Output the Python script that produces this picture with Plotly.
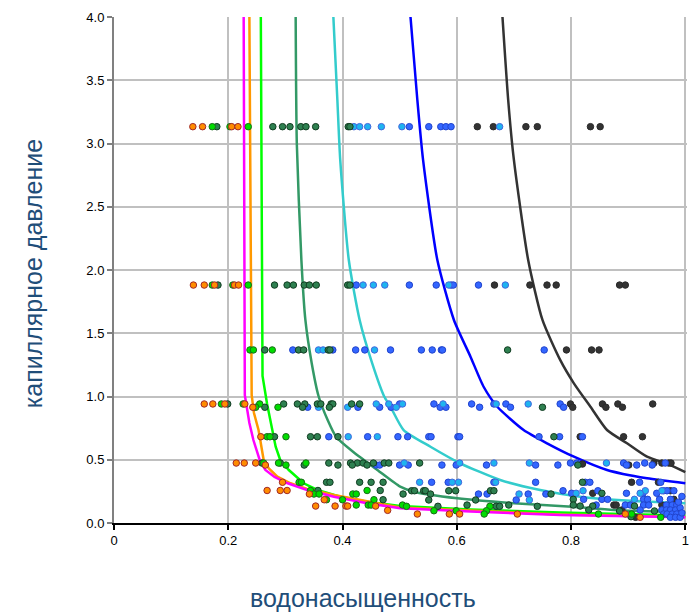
import plotly.graph_objects as go

# ---------------- curves (water saturation, capillary pressure) ----------------
magenta_sw = [0.227, 0.229, 0.237, 0.244, 0.255, 0.265, 0.281, 0.304, 0.338, 0.385, 0.443, 0.501, 0.624, 0.781, 1.0]
magenta_pc = [4.0, 1.01, 0.79, 0.656, 0.498, 0.419, 0.364, 0.314, 0.261, 0.208, 0.156, 0.116, 0.091, 0.063, 0.045]

orange_line_sw = [0.237, 0.241, 0.245, 0.253, 0.262, 0.271, 0.286, 0.309, 0.338, 0.385, 0.501, 0.781, 1.0]
orange_line_pc = [4.0, 1.01, 0.87, 0.735, 0.498, 0.432, 0.366, 0.314, 0.269, 0.221, 0.123, 0.067, 0.048]

lime_line_sw = [0.257, 0.260, 0.268, 0.277, 0.283, 0.291, 0.306, 0.332, 0.356, 0.396, 0.443, 0.501, 0.624, 0.781, 1.0]
lime_line_pc = [4.0, 1.162, 0.941, 0.735, 0.603, 0.498, 0.419, 0.314, 0.261, 0.208, 0.168, 0.134, 0.107, 0.083, 0.059]

seagreen_sw = [0.318, 0.320, 0.328, 0.335, 0.346, 0.358, 0.374, 0.389, 0.419, 0.461, 0.501, 0.525, 0.601, 0.700, 0.802, 0.875, 1.0]
seagreen_pc = [4.0, 3.0, 2.08, 1.605, 1.265, 1.004, 0.814, 0.680, 0.561, 0.419, 0.287, 0.247, 0.195, 0.156, 0.129, 0.103, 0.085]

turq_sw = [0.384, 0.391, 0.396, 0.411, 0.430, 0.452, 0.473, 0.484, 0.507, 0.554, 0.606, 0.676, 0.746, 0.816, 0.904, 1.0]
turq_pc = [4.0, 3.344, 2.87, 2.079, 1.605, 1.262, 1.0, 0.919, 0.735, 0.603, 0.472, 0.340, 0.261, 0.208, 0.176, 0.156]

blue_line_sw = [0.519, 0.531, 0.541, 0.566, 0.595, 0.624, 0.647, 0.671, 0.717, 0.758, 0.805, 0.863, 0.933, 1.0]
blue_line_pc = [4.0, 3.344, 2.870, 2.079, 1.605, 1.315, 1.077, 0.919, 0.735, 0.630, 0.524, 0.419, 0.353, 0.314]

gray_line_sw = [0.680, 0.690, 0.700, 0.725, 0.750, 0.781, 0.805, 0.834, 0.863, 0.898, 0.933, 0.974, 1.0]
gray_line_pc = [4.0, 3.344, 2.870, 2.079, 1.605, 1.289, 1.104, 0.919, 0.735, 0.630, 0.524, 0.458, 0.403]

# ---------------- measured points ----------------
orange_pts = [(0.138,3.133),(0.155,3.133),(0.206,3.133),(0.217,3.133),
    (0.139,1.881),(0.158,1.881),(0.176,1.881),(0.211,1.881),(0.218,1.881),
    (0.158,0.941),(0.173,0.941),(0.194,0.941),(0.229,0.941),(0.243,0.915),
    (0.257,0.682),
    (0.214,0.474),(0.228,0.474),(0.248,0.474),(0.265,0.458),
    (0.268,0.257),(0.291,0.257),(0.303,0.257),(0.295,0.322),(0.342,0.229),(0.368,0.184),
    (0.353,0.134),(0.387,0.134),(0.406,0.134),(0.409,0.134),(0.458,0.134),(0.479,0.100),
    (0.531,0.071),(0.587,0.071),(0.605,0.071),(0.706,0.071),(0.895,0.071),(0.921,0.045)]
orange_sw = [p[0] for p in orange_pts]
orange_pc = [p[1] for p in orange_pts]

lime_pts = [(0.172,3.133),(0.203,3.133),(0.235,3.133),
    (0.172,1.881),(0.208,1.881),(0.235,1.881),
    (0.238,1.368),(0.244,1.368),(0.277,1.368),
    (0.188,0.941),(0.226,0.941),(0.255,0.941),(0.248,0.915),(0.287,0.915),
    (0.268,0.682),(0.273,0.682),(0.301,0.682),
    (0.262,0.474),(0.288,0.474),(0.336,0.474),(0.301,0.458),
    (0.324,0.322),(0.328,0.322),(0.344,0.257),(0.350,0.229),(0.359,0.229),(0.372,0.184),
    (0.400,0.184),(0.418,0.229),(0.424,0.229),(0.424,0.142),(0.443,0.257),(0.455,0.184),
    (0.445,0.142),(0.450,0.142),(0.505,0.142),(0.512,0.132),(0.560,0.097),(0.599,0.097),
    (0.658,0.132),(0.652,0.097),(0.648,0.071),(0.848,0.071),(0.906,0.071),(0.957,0.045)]
lime_sw = [p[0] for p in lime_pts]
lime_pc = [p[1] for p in lime_pts]

dkgreen_pts = [(0.180,3.133),(0.278,3.133),(0.295,3.133),(0.308,3.133),(0.327,3.133),(0.336,3.133),
    (0.353,3.133),(0.410,3.133),(0.413,3.133),
    (0.182,1.881),(0.281,1.881),(0.303,1.881),(0.314,1.881),(0.333,1.881),(0.342,1.881),
    (0.354,1.881),(0.409,1.881),(0.413,1.881),
    (0.264,1.368),(0.323,1.368),(0.332,1.368),(0.375,1.368),(0.378,1.368),(0.689,1.368),
    (0.199,0.941),(0.297,0.941),(0.321,0.941),(0.334,0.941),(0.356,0.941),(0.362,0.941),
    (0.380,0.941),(0.383,0.941),(0.416,0.941),(0.430,0.941),
    (0.264,0.915),(0.330,0.915),(0.377,0.915),(0.750,0.915),
    (0.281,0.682),(0.344,0.682),(0.356,0.682),(0.392,0.682),(0.770,0.682),
    (0.259,0.474),(0.291,0.474),(0.376,0.474),(0.414,0.474),(0.426,0.474),(0.436,0.474),
    (0.454,0.474),(0.473,0.474),(0.481,0.474),(0.535,0.474),
    (0.333,0.458),(0.392,0.458),(0.417,0.458),(0.443,0.458),(0.812,0.458),
    (0.372,0.322),(0.378,0.322),(0.357,0.257),(0.430,0.322),(0.450,0.322),(0.471,0.322),
    (0.466,0.257),(0.471,0.184),(0.506,0.229),(0.521,0.255),(0.526,0.255),(0.542,0.255),
    (0.545,0.255),(0.554,0.229),(0.551,0.182),(0.586,0.255),(0.598,0.255),(0.659,0.255),
    (0.665,0.255),(0.633,0.182),(0.765,0.229),(0.567,0.132),(0.618,0.142),(0.669,0.132),
    (0.675,0.132),(0.691,0.142),(0.741,0.132),(0.820,0.322),(0.854,0.235),(0.804,0.187),
    (0.804,0.142),(0.816,0.134),(0.838,0.134),(0.831,0.103),(0.885,0.095),(0.911,0.134),
    (0.946,0.095),(0.905,0.050)]
dkgreen_sw = [p[0] for p in dkgreen_pts]
dkgreen_pc = [p[1] for p in dkgreen_pts]

ltblue_pts = [(0.420,3.133),(0.430,3.133),(0.444,3.133),(0.468,3.133),(0.504,3.133),(0.675,3.133),
    (0.436,1.881),(0.454,1.881),(0.474,1.881),(0.586,1.881),(0.685,1.881),
    (0.358,1.368),(0.366,1.368),(0.456,1.368),
    (0.459,0.941),(0.481,0.941),(0.505,0.941),(0.576,0.941),(0.669,0.941),(0.725,0.941),
    (0.358,0.915),(0.409,0.915),(0.494,0.915),
    (0.410,0.682),(0.461,0.682),
    (0.508,0.474),(0.605,0.474),(0.665,0.474),(0.727,0.474),(0.862,0.474),
    (0.535,0.322),(0.592,0.322),(0.603,0.322),(0.668,0.322),(0.709,0.229),(0.727,0.182),
    (0.821,0.255),(0.809,0.235),(0.930,0.255),(0.921,0.235),(0.959,0.255),(0.911,0.187)]
ltblue_sw = [p[0] for p in ltblue_pts]
ltblue_pc = [p[1] for p in ltblue_pts]

blue_pts = [(0.517,3.133),(0.551,3.133),(0.572,3.133),(0.581,3.133),(0.590,3.133),
    (0.424,1.881),(0.517,1.881),(0.564,1.881),(0.590,1.881),(0.594,1.881),(0.638,1.881),
    (0.313,1.368),(0.383,1.368),(0.423,1.368),(0.439,1.368),(0.484,1.368),(0.538,1.368),
    (0.557,1.368),(0.573,1.368),(0.575,1.368),(0.753,1.368),
    (0.500,0.941),(0.560,0.941),(0.626,0.941),(0.665,0.941),(0.686,0.941),(0.781,0.941),
    (0.339,0.915),(0.427,0.915),(0.465,0.915),(0.485,0.915),(0.571,0.915),(0.581,0.915),
    (0.640,0.915),(0.694,0.915),(0.787,0.915),
    (0.376,0.682),(0.444,0.682),(0.497,0.682),(0.514,0.682),(0.551,0.682),(0.555,0.682),
    (0.602,0.682),(0.605,0.682),(0.744,0.682),(0.780,0.682),(0.820,0.682),
    (0.799,0.474),(0.810,0.474),(0.892,0.474),(0.929,0.474),(0.965,0.474),
    (0.459,0.458),(0.465,0.458),(0.500,0.458),(0.515,0.458),(0.574,0.458),(0.599,0.458),
    (0.652,0.458),(0.738,0.458),(0.777,0.458),(0.897,0.458),(0.915,0.458),(0.942,0.458),
    (0.556,0.322),(0.585,0.322),(0.665,0.322),(0.738,0.322),(0.825,0.322),(0.833,0.322),
    (0.920,0.322),(0.957,0.322),
    (0.638,0.229),(0.653,0.229),(0.725,0.229),(0.756,0.229),(0.704,0.182),
    (0.786,0.255),(0.801,0.235),(0.847,0.255),(0.897,0.235),(0.926,0.235),(0.950,0.235),
    (0.962,0.255),(0.968,0.255),(0.980,0.255),
    (0.822,0.187),(0.854,0.187),(0.864,0.187),(0.927,0.187),(0.934,0.187),(0.955,0.187),(0.974,0.187),
    (0.844,0.142),(0.895,0.142),(0.904,0.142),(0.927,0.142),(0.936,0.142),(0.967,0.142),
    (0.977,0.142),(0.985,0.142),
    (0.921,0.103),(0.959,0.103),(0.967,0.103),(0.974,0.103),(0.983,0.103),
    (0.962,0.071),(0.968,0.071),(0.977,0.071),(0.985,0.071),
    (0.974,0.045),(0.983,0.045),(0.991,0.045),(0.991,0.120),(0.994,0.080),(0.988,0.165),(0.994,0.210)]
blue_sw = [p[0] for p in blue_pts]
blue_pc = [p[1] for p in blue_pts]

dkgray_pts = [(0.636,3.133),(0.664,3.133),(0.721,3.133),(0.741,3.133),(0.834,3.133),(0.851,3.133),
    (0.666,1.881),(0.728,1.881),(0.758,1.881),(0.774,1.881),(0.885,1.881),(0.895,1.881),
    (0.792,1.368),(0.836,1.368),(0.849,1.368),
    (0.799,0.941),(0.855,0.941),(0.882,0.941),(0.943,0.941),(0.803,0.915),(0.861,0.915),(0.890,0.915),
    (0.816,0.682),(0.892,0.682),(0.925,0.682),
    (0.820,0.466),(0.901,0.458),(0.945,0.474),(0.959,0.474),(0.971,0.474),(0.975,0.474),
    (0.906,0.322),(0.953,0.322),(0.838,0.235),(0.974,0.255),(0.980,0.187),(0.875,0.142),
    (0.879,0.142),(0.959,0.142),(0.889,0.103),(0.913,0.045)]
dkgray_sw = [p[0] for p in dkgray_pts]
dkgray_pc = [p[1] for p in dkgray_pts]

x_ticks = [0, 0.2, 0.4, 0.6, 0.8, 1.0]
x_ticklabels = ["0", "0.2", "0.4", "0.6", "0.8", "1"]
y_ticks = [0, 0.5, 1.0, 1.5, 2.0, 2.5, 3.0, 3.5, 4.0]
y_ticklabels = ["0.0", "0.5", "1.0", "1.5", "2.0", "2.5", "3.0", "3.5", "4.0"]

x_title = "водонасыщенность"
y_title = "капиллярное давление"

fig = go.Figure()

lines = [
    (gray_line_sw, gray_line_pc, "#333333", "spline"),
    (blue_line_sw, blue_line_pc, "#0000FF", "spline"),
    (turq_sw, turq_pc, "#33CCCC", "spline"),
    (seagreen_sw, seagreen_pc, "#339966", "spline"),
    (lime_line_sw, lime_line_pc, "#00FF00", "linear"),
    (orange_line_sw, orange_line_pc, "#FF9900", "linear"),
    (magenta_sw, magenta_pc, "#FF00FF", "linear"),
]
for xs, ys, c, shp in lines:
    fig.add_trace(go.Scatter(x=xs, y=ys, mode="lines",
                             line=dict(color=c, width=2.5, shape=shp, smoothing=0.6),
                             hoverinfo="skip", showlegend=False))

groups = [
    (dkgray_sw, dkgray_pc, "#333333", "#2a2a2a"),
    (blue_sw, blue_pc, "#3366FF", "#2244CC"),
    (ltblue_sw, ltblue_pc, "#1EB4F0", "#4466DD"),
    (dkgreen_sw, dkgreen_pc, "#2E8050", "#123D22"),
    (lime_sw, lime_pc, "#00DD00", "#1A6B1A"),
    (orange_sw, orange_pc, "#FF8C00", "#A0282A"),
]
for xs, ys, fc, lc in groups:
    fig.add_trace(go.Scatter(x=xs, y=ys, mode="markers",
                             marker=dict(size=6.5, color=fc, line=dict(color=lc, width=1)),
                             showlegend=False))

fig.update_layout(
    width=690, height=612,
    margin=dict(l=114, r=3, t=17, b=89),
    paper_bgcolor="white", plot_bgcolor="white",
    font=dict(family="Liberation Sans, Arial, sans-serif", size=13, color="#000000"),
    showlegend=False,
    xaxis=dict(range=[0, 1.003], tickvals=x_ticks, ticktext=x_ticklabels,
               showgrid=True, gridcolor="#C0C0C0", gridwidth=1.5,
               zeroline=False, showline=True, linecolor="#000000", linewidth=1.5,
               ticks="outside", ticklen=5, tickcolor="#000000", tickwidth=1.5,
               ticklabeloverflow="allow", automargin=False),
    yaxis=dict(range=[0, 4], tickvals=y_ticks, ticktext=y_ticklabels,
               showgrid=True, gridcolor="#C0C0C0", gridwidth=1.5,
               zeroline=False, showline=True, linecolor="#808080", linewidth=2,
               ticks="outside", ticklen=5, tickcolor="#808080", tickwidth=1.5,
               ticklabeloverflow="allow", automargin=False),
    annotations=[
        dict(text=x_title, xref="paper", yref="paper", x=0.435, y=-0.148,
             xanchor="center", yanchor="middle", showarrow=False,
             font=dict(size=25, color="#1F4E79")),
        dict(text=y_title, xref="paper", yref="paper", x=-0.141, y=0.492,
             xanchor="center", yanchor="middle", showarrow=False, textangle=-90,
             font=dict(size=25, color="#1F4E79")),
    ],
)

# remove the default page margin so the 690x612 figure fills the window exactly
fig.write_html("out.html",
               config={"displayModeBar": False},
               post_script="document.body.style.margin='0';document.body.style.overflow='hidden';")
